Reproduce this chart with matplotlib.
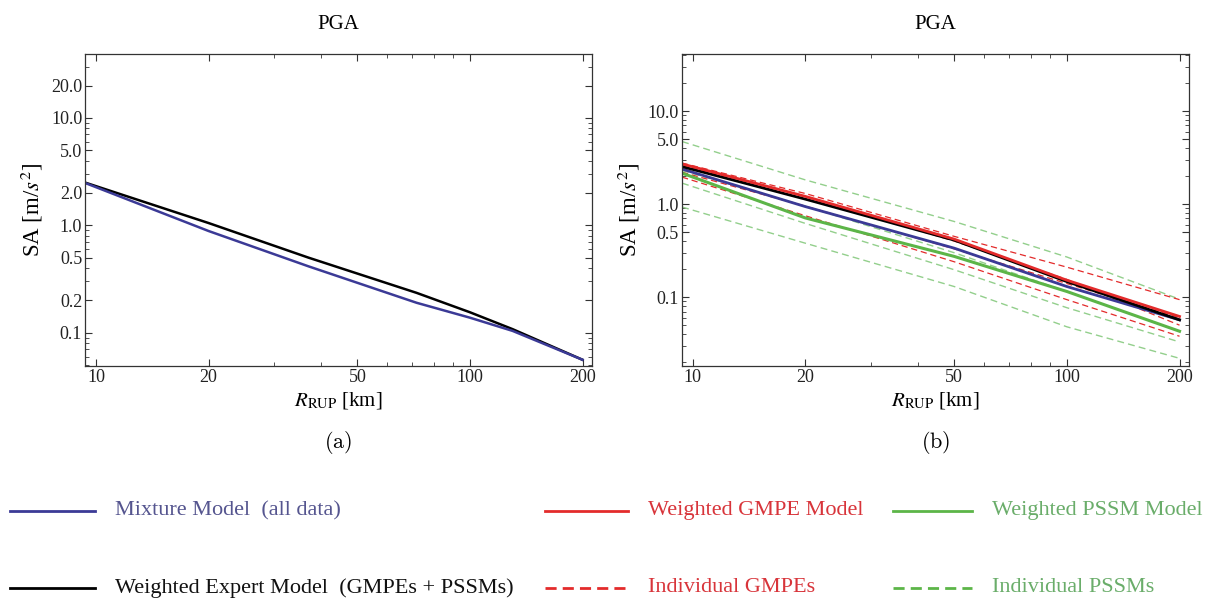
import matplotlib
matplotlib.use('Agg')
import matplotlib.pyplot as plt
from matplotlib.lines import Line2D
from matplotlib.ticker import FixedLocator, FixedFormatter, NullFormatter

plt.rcParams['font.family'] = ['Liberation Serif', 'DejaVu Serif']
plt.rcParams['mathtext.fontset'] = 'stix'

# ---- data ----
# panel (a)
r_a = [9.35, 20, 37, 72, 100, 130, 200]
expert_a = [2.5, 1.05, 0.5, 0.235, 0.155, 0.108, 0.056]
mixture_a = [2.48, 0.885, 0.415, 0.19, 0.138, 0.104, 0.056]

# panel (b)
r_b = [9.37, 20, 50, 100, 200]
mixture_b = [2.38, 0.94, 0.336, 0.13, 0.057]
expert_b = [2.53, 1.13, 0.41, 0.147, 0.057]
gmpe_w = [2.7, 1.21, 0.42, 0.152, 0.062]
pssm_w = [2.15, 0.71, 0.274, 0.115, 0.043]
gmpe_ind = [
    [2.76, 1.30, 0.45, 0.21, 0.094],
    [2.6, 1.2, 0.40, 0.155, 0.05],
    [2.2, 0.95, 0.33, 0.14, 0.06],
    [1.95, 0.75, 0.24, 0.094, 0.038],
]
pssm_ind = [
    [4.7, 1.82, 0.65, 0.27, 0.095],
    [2.3, 0.95, 0.30, 0.115, 0.043],
    [1.68, 0.62, 0.197, 0.077, 0.033],
    [0.93, 0.38, 0.13, 0.048, 0.022],
]

xticks = [10, 20, 50, 100, 200]
xminor = [30, 40, 60, 70, 80, 90]
yticks_a = [0.1, 0.2, 0.5, 1, 2, 5, 10, 20]
yticks_b = [0.1, 0.5, 1, 5, 10]

BLUE = '#3b3a96'
RED = '#e32b2b'
GREEN = '#5cb548'
GREEN_L = '#93cf8c'

W, H = 1219, 604
fig = plt.figure(figsize=(W / 100, H / 100), dpi=100)


def box(l, r, t, b):
    return [l / W, 1 - b / H, (r - l) / W, (b - t) / H]


def style(ax, ylim, ymaj):
    ax.set_xscale('log')
    ax.set_yscale('log')
    ax.set_xlim(9.35, 212)
    ax.set_ylim(*ylim)
    ax.xaxis.set_major_locator(FixedLocator(xticks))
    ax.xaxis.set_major_formatter(FixedFormatter([str(v) for v in xticks]))
    ax.xaxis.set_minor_locator(FixedLocator(xminor))
    ax.xaxis.set_minor_formatter(NullFormatter())
    ymin = [m * 10.0 ** e for e in range(-2, 2) for m in range(1, 10)]
    ymin = [v for v in ymin if v not in ymaj and ylim[0] < v < ylim[1]]
    ax.yaxis.set_major_locator(FixedLocator(ymaj))
    ax.yaxis.set_major_formatter(FixedFormatter(['%.1f' % v for v in ymaj]))
    ax.yaxis.set_minor_locator(FixedLocator(ymin))
    ax.yaxis.set_minor_formatter(NullFormatter())
    ax.tick_params(which='both', direction='in', top=True, right=True,
                   labelsize=13, pad=2, colors='#333333', labelcolor='#222222')
    ax.tick_params(which='major', length=5, width=0.8)
    ax.tick_params(which='minor', length=3, width=0.6)
    for s in ax.spines.values():
        s.set_linewidth(0.9)
        s.set_color('#333333')
    ax.set_title('PGA', fontsize=15, pad=18)
    ax.set_xlabel(r'$R_{\mathrm{RUP}}$ [km]', fontsize=15, labelpad=3)
    ax.set_ylabel(r'SA [m/$s^2$]', fontsize=16.5, labelpad=4)


ax1 = fig.add_axes(box(85, 592, 54, 366))
ax1.plot(r_a, expert_a, color='black', lw=1.8)
ax1.plot(r_a, mixture_a, color=BLUE, lw=1.8)
style(ax1, (0.049, 39.3), yticks_a)

ax2 = fig.add_axes(box(681.7, 1189, 54, 366))
for s in pssm_ind:
    ax2.plot(r_b, s, color=GREEN_L, lw=1.0, ls=(0, (5, 3)))
for s in gmpe_ind:
    ax2.plot(r_b, s, color=RED, lw=0.9, ls=(0, (5, 3)))
ax2.plot(r_b, pssm_w, color=GREEN, lw=2.2)
ax2.plot(r_b, mixture_b, color=BLUE, lw=2.0)
ax2.plot(r_b, expert_b, color='black', lw=2.0)
ax2.plot(r_b, gmpe_w, color=RED, lw=2.0)
style(ax2, (0.0182, 41), yticks_b)

fig.text(338 / W, 1 - 443 / H, r'$\mathrm{(a)}$', ha='center', va='center',
         fontsize=16, math_fontfamily='cm')
fig.text(936 / W, 1 - 443 / H, r'$\mathrm{(b)}$', ha='center', va='center',
         fontsize=16, math_fontfamily='cm')

# legend, drawn by hand in figure pixels
legend = [
    (10, 95, 511, BLUE, '-', 'Mixture Model  (all data)', '#55558f'),
    (10, 95, 588, 'black', '-', 'Weighted Expert Model  (GMPEs + PSSMs)', '#111111'),
    (545, 628, 511, RED, '-', 'Weighted GMPE Model', '#d8343a'),
    (545, 628, 588, RED, (0, (4, 2.2)), 'Individual GMPEs', '#d8343a'),
    (893, 972, 511, GREEN, '-', 'Weighted PSSM Model', '#6aad6a'),
    (893, 972, 588, GREEN, (0, (4, 2.2)), 'Individual PSSMs', '#6aad6a'),
]
for x0, x1, y, c, ls, label, tc in legend:
    fig.add_artist(Line2D([x0 / W, x1 / W], [1 - y / H, 1 - y / H],
                          color=c, lw=2.0, ls=ls, transform=fig.transFigure))
    fig.text((x1 + 20) / W, 1 - y / H, label, color=tc, fontsize=16,
             ha='left', va='center')

fig.savefig('out.png', dpi=100)
